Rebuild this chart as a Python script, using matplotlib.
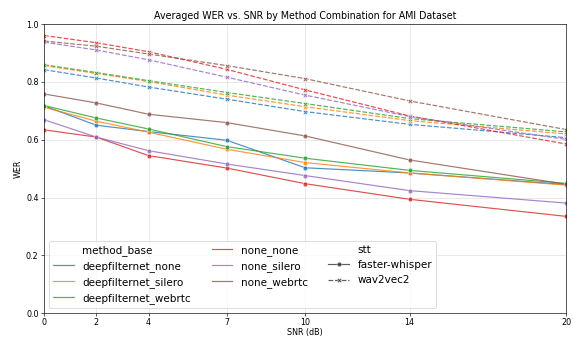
import numpy as np
import pandas as pd
import seaborn as sns
import matplotlib
matplotlib.use("Agg")
import matplotlib.pyplot as plt

snr = [0, 2, 4, 7, 10, 14, 20]
methods = ["deepfilternet_none", "deepfilternet_silero", "deepfilternet_webrtc",
           "none_none", "none_silero", "none_webrtc"]
stts = ["faster-whisper", "wav2vec2"]

# faster-whisper
fw_deepfilternet_none = [0.717, 0.650, 0.628, 0.598, 0.503, 0.485, 0.445]
fw_deepfilternet_silero = [0.712, 0.664, 0.626, 0.567, 0.521, 0.485, 0.443]
fw_deepfilternet_webrtc = [0.718, 0.675, 0.637, 0.576, 0.536, 0.494, 0.449]
fw_none_none = [0.634, 0.609, 0.545, 0.502, 0.448, 0.394, 0.335]
fw_none_silero = [0.669, 0.609, 0.562, 0.516, 0.476, 0.424, 0.381]
fw_none_webrtc = [0.758, 0.727, 0.688, 0.659, 0.613, 0.530, 0.446]

# wav2vec2
w2v_deepfilternet_none = [0.842, 0.813, 0.782, 0.740, 0.697, 0.653, 0.607]
w2v_deepfilternet_silero = [0.856, 0.829, 0.801, 0.754, 0.714, 0.666, 0.620]
w2v_deepfilternet_webrtc = [0.859, 0.832, 0.804, 0.763, 0.725, 0.673, 0.627]
w2v_none_none = [0.960, 0.935, 0.904, 0.843, 0.772, 0.682, 0.585]
w2v_none_silero = [0.937, 0.910, 0.876, 0.816, 0.754, 0.680, 0.601]
w2v_none_webrtc = [0.941, 0.923, 0.896, 0.856, 0.811, 0.734, 0.635]

fw = [fw_deepfilternet_none, fw_deepfilternet_silero, fw_deepfilternet_webrtc,
      fw_none_none, fw_none_silero, fw_none_webrtc]
w2v = [w2v_deepfilternet_none, w2v_deepfilternet_silero, w2v_deepfilternet_webrtc,
       w2v_none_none, w2v_none_silero, w2v_none_webrtc]


def buildFrame():
    rows = []
    for stt, series in zip(stts, [fw, w2v]):
        for method, values in zip(methods, series):
            for s, v in zip(snr, values):
                rows.append({"SNR": s, "WER": v, "method_base": method, "stt": stt})
    return pd.DataFrame(rows)


df = buildFrame()

fig, ax = plt.subplots(figsize=(10, 5.9), dpi=57.3)
sns.lineplot(data=df, x="SNR", y="WER", hue="method_base", style="stt",
             hue_order=methods, style_order=stts, markers=True, dashes=True,
             alpha=0.8, ax=ax)

ax.set_title("Averaged WER vs. SNR by Method Combination for AMI Dataset", fontsize=12)
ax.set_xlabel("SNR (dB)", labelpad=2)
ax.set_ylabel("WER")
ax.set_xticks(snr)
ax.set_xlim(0, 20)
ax.set_ylim(0, 1)
ax.tick_params(axis="x", pad=2)
ax.grid(True, color="#dddddd")

handles, labels = ax.get_legend_handles_labels()
ax.legend(handles, labels, ncol=3, loc="lower left", fontsize=13)

fig.subplots_adjust(left=0.077, right=0.988, top=0.929, bottom=0.073)
fig.savefig("out.png", dpi=57.3)
